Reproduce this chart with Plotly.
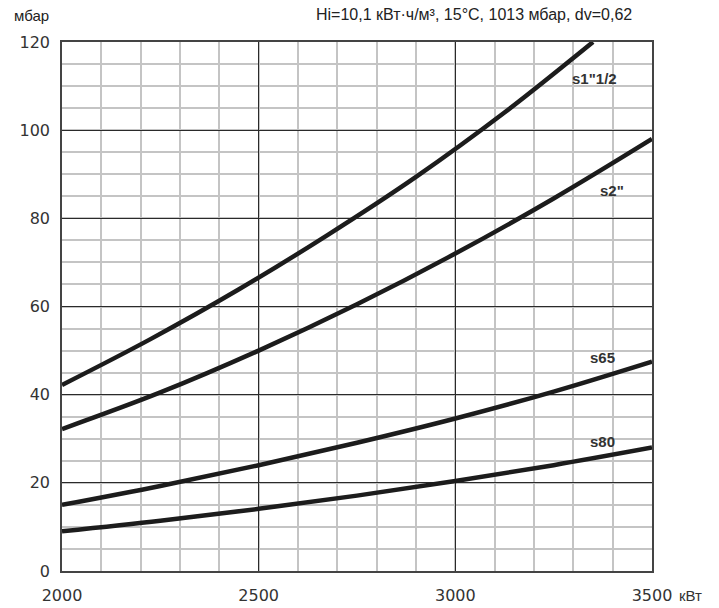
import plotly.graph_objects as go

# Data
power_kw = [2000, 2250, 2500, 2750, 3000, 3250, 3500]
s1_12_power = [2000, 2225, 2450, 2675, 2900, 3125, 3350]
s1_12 = [42.2, 52.6, 63.9, 76.2, 89.4, 104.0, 120]
s2 = [32.2, 40.5, 50, 60.5, 72, 84.5, 98]
s65 = [15, 19.3, 24, 29.1, 34.6, 40.7, 47.5]
s80 = [9, 11.4, 14.1, 17.1, 20.4, 24, 28]

series_names = ['s1"1/2', 's2"', 's65', 's80']
label_x = [3355, 3398, 3373, 3373]
label_y = [111.8, 86.4, 48.5, 29.3]

x_ticks = [2000, 2500, 3000, 3500]
y_ticks = [0, 20, 40, 60, 80, 100, 120]

line_color = "#1c1c1c"
fig = go.Figure()
for xs, ys, nm in [(s1_12_power, s1_12, series_names[0]), (power_kw, s2, series_names[1]),
                   (power_kw, s65, series_names[2]), (power_kw, s80, series_names[3])]:
    fig.add_trace(go.Scatter(x=xs, y=ys, mode="lines", name=nm,
                             line=dict(color=line_color, width=4.5, shape="spline", smoothing=1),
                             showlegend=False, hoverinfo="skip"))

for nm, lx, ly in zip(series_names, label_x, label_y):
    fig.add_annotation(x=lx, y=ly, text="<b>" + nm + "</b>", showarrow=False,
                       font=dict(family="Liberation Sans", size=15, color="#333333"))

fig.add_annotation(xref="paper", yref="paper", x=0, y=1.0, xshift=-31, yshift=27,
                   text="мбар", showarrow=False, xanchor="center", yanchor="middle",
                   font=dict(family="Liberation Sans", size=15, color="#222222"))
fig.add_annotation(xref="paper", yref="paper", x=1.0, y=1.0, xshift=-18, yshift=28,
                   text="Hi=10,1 кВт·ч/м³, 15°C, 1013 мбар, dv=0,62", showarrow=False,
                   xanchor="right", yanchor="middle",
                   font=dict(family="Liberation Sans", size=16, color="#222222"))
fig.add_annotation(xref="paper", yref="paper", x=1.0, y=0, xshift=25, yshift=-24,
                   text="кВт", showarrow=False, xanchor="left", yanchor="middle",
                   font=dict(family="Liberation Sans", size=15, color="#333333"))

fig.update_layout(
    width=719, height=608,
    margin=dict(l=62, r=67, t=42, b=37, autoexpand=False),
    plot_bgcolor="white", paper_bgcolor="white",
    font=dict(family="DejaVu Sans", size=16, color="#333333"),
)
fig.update_xaxes(range=[2000, 3500], tickvals=x_ticks, ticktext=[str(v) for v in x_ticks],
                 showgrid=True, gridcolor="#2a2a2a", gridwidth=1,
                 minor=dict(dtick=100, showgrid=True, gridcolor="#c4c4c4", gridwidth=1.5),
                 showline=True, mirror=True, linecolor="#444444", linewidth=1.5,
                 zeroline=False, ticks="", ticklabelstandoff=9, automargin=False)
fig.update_yaxes(range=[0, 120], tickvals=y_ticks,
                 showgrid=True, gridcolor="#2a2a2a", gridwidth=1,
                 minor=dict(dtick=5, showgrid=True, gridcolor="#c4c4c4", gridwidth=1.5),
                 showline=True, mirror=True, linecolor="#444444", linewidth=1.5,
                 zeroline=False, ticks="", ticklabelstandoff=7, automargin=False)

fig.write_html("out.html", config={"displayModeBar": False},
               post_script="document.body.style.margin='0';document.body.style.overflow='hidden';")
